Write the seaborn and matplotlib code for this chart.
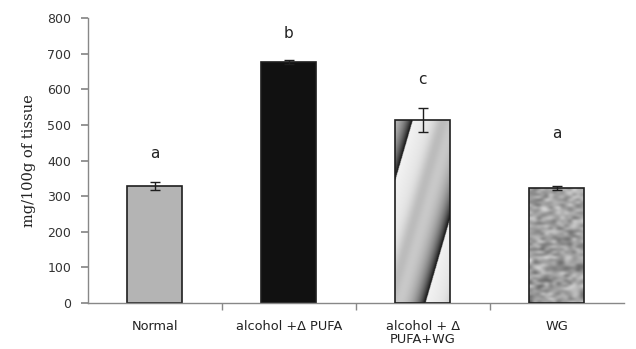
import numpy as np
import matplotlib
matplotlib.use("Agg")
import matplotlib.pyplot as plt
import seaborn as sns
import pandas as pd

categories = ["Normal", "alcohol +\u0394 PUFA", "alcohol + \u0394\nPUFA+WG", "WG"]
values = [328, 676, 514, 322]
errors = [12, 6, 33, 6]
letters = ["a", "b", "c", "a"]
letter_pos = [421, 758, 629, 475]

sns.set_theme(style="white")
plt.rcParams['font.family'] = ['DejaVu Sans']

fig = plt.figure(figsize=(6.36, 3.49), dpi=100)
ax = fig.add_axes([0.138, 0.132, 0.843, 0.816])

df = pd.DataFrame({"cat": categories, "val": values})
sns.barplot(data=df, x="cat", y="val", ax=ax, width=0.41,
            palette=["#b4b4b4", "#111111", "#c8c8c8", "#9a9a9a"], hue="cat",
            legend=False, edgecolor="#1e1e1e", linewidth=1.2, saturation=1)

ax.errorbar(range(len(values)), values, yerr=errors, fmt="none",
            ecolor="#1e1e1e", elinewidth=1, capsize=3.5, capthick=1, zorder=5)

patches = ax.patches
# diagonal gradient-streak texture
p = patches[2]
x0, y0 = p.get_x(), p.get_y()
w, h = p.get_width(), p.get_height()
ny, nx = 400, 110
yy, xx = np.mgrid[0:ny, 0:nx]
u = (xx / nx) - (yy / ny) * 0.97
phase = ((u - 0.55) / 1.2) % 1.0
img = (0.95 - 0.2 * phase - 0.7 * phase ** 7
       - 0.12 * np.exp(-((phase - 0.45) / 0.12) ** 2))
im = ax.imshow(img, cmap="gray", vmin=0, vmax=1, origin="lower",
               extent=[x0, x0 + w, y0, y0 + h], aspect="auto", zorder=2,
               interpolation="bilinear")
im.set_clip_path(p)
p.set_zorder(3)
p.set_facecolor("none")

# speckled texture
p = patches[3]
x0, y0 = p.get_x(), p.get_y()
w, h = p.get_width(), p.get_height()
ny, nx = 44, 14
yy, xx = np.mgrid[0:ny, 0:nx]
noise = (np.sin(xx * 12.9898 + yy * 78.233) * 43758.5453) % 1.0
noise2 = (np.sin(xx * 39.346 + yy * 11.135) * 24634.6345) % 1.0
tex = 0.32 + 0.62 * (0.6 * noise + 0.4 * noise2)
im2 = ax.imshow(tex, cmap="gray", vmin=0, vmax=1, origin="lower",
                extent=[x0, x0 + w, y0, y0 + h], aspect="auto", zorder=2,
                interpolation="bicubic")
im2.set_clip_path(p)
p.set_zorder(3)
p.set_facecolor("none")

for i, (lt, lp) in enumerate(zip(letters, letter_pos)):
    ax.text(i, lp, lt, ha="center", va="center", fontsize=11, color="#222222")

ax.set_xlim(-0.5, 3.5)
ax.set_ylim(0, 800)
ax.set_yticks(range(0, 801, 100))
ax.set_xlabel("")
ax.set_ylabel("mg/100g of tissue", family="DejaVu Serif", fontsize=10.5,
              color="#222222", labelpad=8)
sns.despine(ax=ax)
for s in ["left", "bottom"]:
    ax.spines[s].set_color("#888888")
    ax.spines[s].set_linewidth(1)
ax.tick_params(axis="y", left=True, length=5, color="#888888", labelsize=9,
               labelcolor="#333333", pad=7)
ax.tick_params(axis="x", bottom=False, labelsize=9.3, labelcolor="#222222", pad=6)
for lbl in ax.get_xticklabels():
    lbl.set_linespacing(1.05)
ax.set_xticks([0.5, 1.5, 2.5], minor=True)
ax.tick_params(axis="x", which="minor", bottom=True, length=5, color="#888888",
               direction="out")

fig.savefig("out.png", dpi=100)
